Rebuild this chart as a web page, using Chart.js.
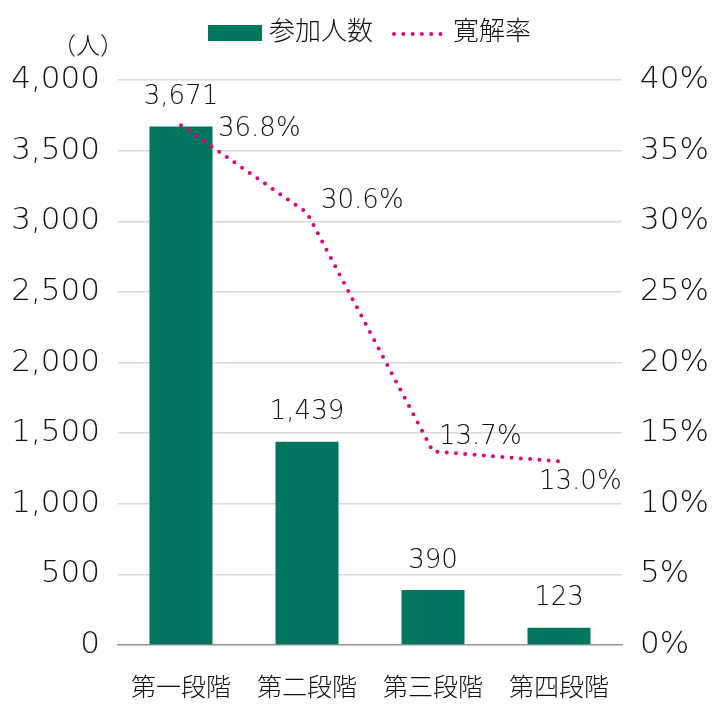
<!DOCTYPE html>
<html>
<head>
<meta charset="utf-8">
<script src="https://cdn.jsdelivr.net/npm/chart.js@4"></script>
<style>
  html, body { margin: 0; padding: 0; background: #fff; }
  #wrap { width: 720px; height: 720px; }
</style>
</head>
<body>
<div id="wrap"><canvas id="remissionChart" width="720" height="720"></canvas></div>
<script>
const categories = ['第一段階', '第二段階', '第三段階', '第四段階'];
const participants = [3671, 1439, 390, 123];
const remissionRate = [36.8, 30.6, 13.7, 13.0];
const leftTicks = [0, 500, 1000, 1500, 2000, 2500, 3000, 3500, 4000];
const rightTicks = [0, 5, 10, 15, 20, 25, 30, 35, 40];

const FONT = '"DejaVu Sans", "Noto Sans CJK JP", sans-serif';
const GREEN = '#00765F';
const PINK = '#E4007F';
const TEXT = '#111';

// where each rate label sits relative to its point
const rateLabelOffsets = [[37, 4], [14, -12], [6, -14], [-20, 21]];

const labelPlugin = {
  id: 'labels',
  afterDraw(chart) {
    const ctx = chart.ctx;
    ctx.save();
    ctx.fillStyle = TEXT;
    ctx.textBaseline = 'middle';

    // bar values
    ctx.font = '300 26px ' + FONT;
    ctx.textAlign = 'center';
    chart.getDatasetMeta(0).data.forEach((bar, i) => {
      ctx.fillText(participants[i].toLocaleString('en-US'), bar.x, bar.y - 29);
    });

    // rate values
    ctx.textAlign = 'left';
    chart.getDatasetMeta(1).data.forEach((pt, i) => {
      const [dx, dy] = rateLabelOffsets[i];
      ctx.fillText(remissionRate[i].toFixed(1) + '%', pt.x + dx, pt.y + dy);
    });

    // unit
    ctx.font = '300 24px ' + FONT;
    ctx.textAlign = 'center';
    ctx.fillText('（人）', 88, 48);

    // legend
    ctx.fillStyle = GREEN;
    ctx.fillRect(208, 25, 54, 16);
    ctx.fillStyle = TEXT;
    ctx.textAlign = 'left';
    ctx.font = '300 26px ' + FONT;
    ctx.fillText('参加人数', 269, 33);
    ctx.strokeStyle = PINK;
    ctx.lineWidth = 4;
    ctx.lineCap = 'round';
    ctx.setLineDash([0, 9.3]);
    ctx.beginPath();
    ctx.moveTo(394, 34);
    ctx.lineTo(442, 34);
    ctx.stroke();
    ctx.setLineDash([]);
    ctx.fillText('寛解率', 453, 33);
    ctx.restore();
  }
};

const ctx = document.getElementById('remissionChart').getContext('2d');
const myChart = new Chart(ctx, {
  data: {
    labels: categories,
    datasets: [{
      type: 'bar',
      label: '参加人数',
      data: participants,
      backgroundColor: GREEN,
      barPercentage: 0.5,
      categoryPercentage: 1,
      yAxisID: 'y',
      order: 2
    }, {
      type: 'line',
      label: '寛解率',
      data: remissionRate,
      borderColor: PINK,
      borderWidth: 4,
      borderDash: [0, 9.3],
      borderCapStyle: 'round',
      pointRadius: 0,
      fill: false,
      tension: 0,
      yAxisID: 'y1',
      order: 1
    }]
  },
  options: {
    responsive: false,
    animation: false,
    layout: { padding: { top: 80, left: 0, right: 0, bottom: 0 } },
    plugins: {
      legend: { display: false },
      tooltip: { enabled: false }
    },
    scales: {
      x: {
        grid: { display: false, drawTicks: false },
        border: { display: true, color: '#999', width: 1.5 },
        ticks: { color: TEXT, font: { family: FONT, size: 25, weight: 300 }, padding: 29 },
        afterFit(scale) { scale.height = 75; }
      },
      y: {
        position: 'left',
        min: 0,
        max: 4000,
        afterBuildTicks(scale) { scale.ticks = leftTicks.map(v => ({ value: v })); },
        grid: { color: '#d9d9d9', lineWidth: 1.5, drawTicks: false },
        border: { display: false },
        ticks: {
          color: TEXT,
          font: { family: FONT, size: 31, weight: 300 },
          padding: 18,
          callback: v => v.toLocaleString('en-US')
        },
        afterFit(scale) { scale.width = 118; }
      },
      y1: {
        position: 'right',
        min: 0,
        max: 40,
        afterBuildTicks(scale) { scale.ticks = rightTicks.map(v => ({ value: v })); },
        grid: { display: false, drawTicks: false },
        border: { display: false },
        ticks: {
          color: TEXT,
          font: { family: FONT, size: 31, weight: 300 },
          padding: 18,
          callback: v => v + '%'
        },
        afterFit(scale) { scale.width = 98; }
      }
    }
  },
  plugins: [labelPlugin]
});
</script>
</body>
</html>
